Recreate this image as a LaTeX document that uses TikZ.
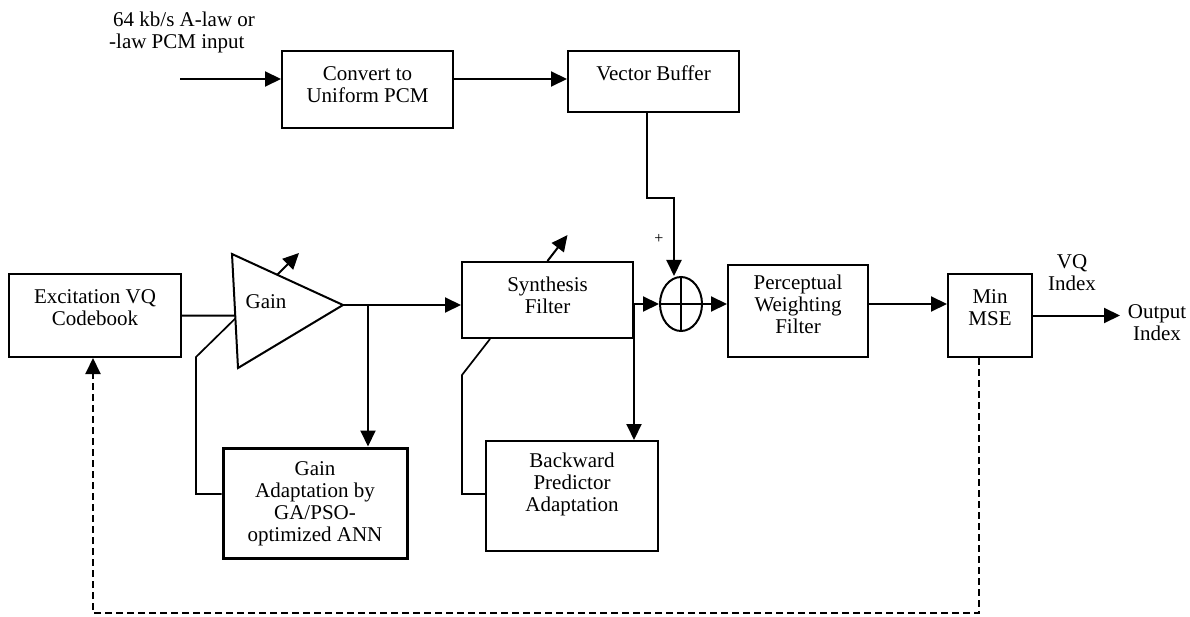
\documentclass[tikz,border=0pt]{standalone}
\usepackage{fontspec}
\setmainfont{Liberation Serif}
\usetikzlibrary{arrows.meta,shapes.geometric}
\begin{document}
\begin{tikzpicture}[x=1pt,y=-1pt,
  box/.style={draw, line width=2pt, rectangle, inner sep=0pt},
  txt/.style={align=center, font=\fontsize{21}{22}\selectfont, inner sep=0pt},
  conn/.style={line width=2pt},
  arr/.style={conn, -{Triangle[length=16pt,width=15pt]}},
  fb/.style={line width=1.7pt},
  dashline/.style={line width=2pt, dash pattern=on 7pt off 4pt}]
\useasboundingbox (0,0) rectangle (1190,617);

% boxes
\node[box, minimum width=171pt, minimum height=77pt] (conv) at (367.5,89.5) {};
\node[txt] at (367.5,84.5) {Convert to\\Uniform PCM};
\node[box, minimum width=171pt, minimum height=61pt] (vb) at (653.5,81.5) {};
\node[txt] at (653.5,73) {Vector Buffer};
\node[box, minimum width=172pt, minimum height=83pt] (exc) at (95,315.5) {};
\node[txt] at (95,308) {Excitation VQ\\Codebook};
\node[box, minimum width=171pt, minimum height=76pt] (syn) at (547.5,300) {};
\node[txt] at (547.5,295) {Synthesis\\Filter};
\node[box, minimum width=140pt, minimum height=92pt] (pw) at (798,311) {};
\node[txt] at (798,304) {Perceptual\\Weighting\\Filter};
\node[box, minimum width=84pt, minimum height=83pt] (mse) at (990,315.5) {};
\node[txt] at (990,308) {Min\\MSE};
\node[box, line width=3pt, minimum width=184pt, minimum height=110pt] (gan) at (315,503) {};
\node[txt] at (315,504) {Gain\\Adaptation by\\GA/PSO-\\optimized ANN};
\node[box, minimum width=172pt, minimum height=110pt] (bp) at (572,496) {};
\node[txt] at (572,484.5) {Backward\\Predictor\\Adaptation};
\node[draw, ellipse, line width=2pt, inner sep=0pt, minimum width=42pt, minimum height=54pt] (sum) at (681,304) {};
\draw[line width=1.7pt] (sum.north) -- (sum.south) (sum.west) -- (sum.east);

% gain triangle
\coordinate (gt) at (232,254);
\coordinate (gb) at (238,368);
\coordinate (ga) at (343,305);
\draw[line width=2pt, line join=miter] (gt) -- (ga) -- (gb) -- cycle;
\node[txt] at (266,302) {Gain};
\path (gt) -- (gb) coordinate[pos=0.54] (gin) coordinate[pos=0.565] (gfb);

% input
\node[txt, align=left, anchor=west] (inlbl) at (109,32.5) {\hspace*{4pt}64 kb/s A-law or\\-law PCM input};
\coordinate (in) at (180,79);
\draw[arr] (in) -- (in -| conv.west);
\draw[arr] (conv.east |- in) -- (vb.west |- in);

% vector buffer to sum
\draw[arr] ([xshift=-6.5pt]vb.south) |- (674,198) -- (sum.north -| 674,0);
\node[font=\fontsize{16}{16}\selectfont, inner sep=0pt] at (659,239) {+};

% codebook to gain
\draw[conn] (exc.east) -- (gin);
\draw[arr] (ga) -- (syn.west |- ga);
\coordinate (br) at (368,305);
\draw[arr] (br) -- (br |- gan.north);
\draw[fb] ([yshift=9pt]gan.west) -- (196,494) -- (196,357) -- (gfb);
\coordinate (gadj) at (277,275);
\draw[arr] (gadj) -- ++(22,-22);

% synthesis
\draw[arr] (syn.north) -- ++(20,-26);
\draw[arr] (syn.east |- sum.west) -- (sum.west);
\draw[arr] (syn.east |- sum.west) -- (bp.north -| syn.east);
\draw[fb] ([yshift=2pt]bp.west) -- (462,494) -- (462,375) -- ([xshift=-57.5pt]syn.south);

% sum to perceptual to mse
\draw[arr] (sum.east) -- (pw.west |- sum.east);
\draw[arr] (pw.east |- sum.east) -- (mse.west |- sum.east);

% output
\coordinate (out) at (1120,315.5);
\draw[arr] (mse.east) -- (out);
\node[txt] (vq) at (1072,272.5) {VQ\\Index};
\node[txt] (outlbl) at (1157,323) {Output\\Index};

% dashed feedback
\coordinate (fbc) at (500,613);
\draw[dashline, -{Triangle[length=16pt,width=15pt]}] ([xshift=-11pt]mse.south) |- (fbc) -| ([xshift=-2pt]exc.south);
\end{tikzpicture}
\end{document}
